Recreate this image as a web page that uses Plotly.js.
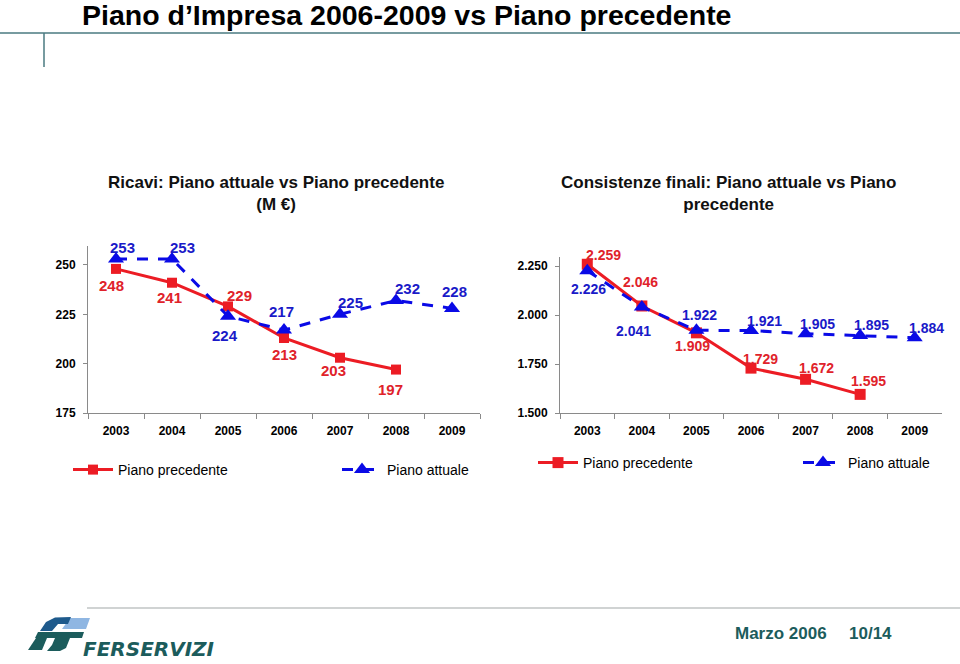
<!DOCTYPE html>
<html><head><meta charset="utf-8">
<script src="https://cdn.plot.ly/plotly-3.0.1.min.js"></script>
<style>html,body{margin:0;padding:0;background:#fff;}#chart{width:960px;height:664px;}</style>
</head><body><div id="chart"></div>
<script>
// ---------- data ----------
const years = ['2003','2004','2005','2006','2007','2008','2009'];
const ricaviPrecedente = [248, 241, 229, 213, 203, 197];
const ricaviAttuale    = [253, 253, 224, 217, 225, 232, 228];
const consPrecedente   = [2259, 2046, 1909, 1729, 1672, 1595];
const consAttuale      = [2226, 2041, 1922, 1921, 1905, 1895, 1884];
const seriesNames = ['Piano precedente', 'Piano attuale'];
const ricaviTicks = [175, 200, 225, 250];
const consTicks   = [1500, 1750, 2000, 2250];
const mainTitle = 'Piano d’Impresa 2006-2009 vs Piano precedente';
const chartTitles = ['Ricavi: Piano attuale vs Piano precedente<br>(M €)',
                     'Consistenze finali: Piano attuale vs Piano<br>precedente'];
const footerDate = 'Marzo 2006';
const footerPage = '10/14';
const logoText = 'FERSERVIZI';

// ---------- styles ----------
const RED = '#ec1c24', BLUE = '#0a0ae6';
const RED_TXT = '#e0222a', BLUE_TXT = '#1a1ac8';
const TEAL = '#1c5c5c';
const FONT = 'Liberation Sans, Arial, Helvetica, sans-serif';
// label offsets (px) [dx, dy(up)]
const offRP = [[-5,-17],[-3,-15],[11,11],[0,-17],[-7,-13],[-6,-20]];
const offRA = [[6,12],[10,12],[-3,-19],[-3,19],[10,12],[11,12],[2,17]];
const offCP = [[16,9],[-1,24],[-4,-13],[9,9],[11,11],[8,13]];
const offCA = [[1,-18],[-8,-24],[3,15],[13,9],[12,10],[11,11],[12,10]];

const W = 960, H = 664;
const X = p => p / W, Y = p => (H - p) / H;
const fmt = n => String(n).replace(/\B(?=(\d{3})+(?!\d))/g, '.');

const traces = [
  {x: years.slice(0, ricaviPrecedente.length), y: ricaviPrecedente, name: seriesNames[0],
   xaxis: 'x', yaxis: 'y', mode: 'lines+markers', legend: 'legend',
   line: {color: RED, width: 3}, marker: {symbol: 'square', size: 10, color: RED}},
  {x: years, y: ricaviAttuale, name: seriesNames[1],
   xaxis: 'x', yaxis: 'y', mode: 'lines+markers', legend: 'legend2',
   line: {color: BLUE, width: 3, dash: '11px,10px'}, marker: {symbol: 'triangle-up', size: 14, color: BLUE}},
  {x: years.slice(0, consPrecedente.length), y: consPrecedente, name: seriesNames[0],
   xaxis: 'x2', yaxis: 'y2', mode: 'lines+markers', legend: 'legend3',
   line: {color: RED, width: 3}, marker: {symbol: 'square', size: 11, color: RED}},
  {x: years, y: consAttuale, name: seriesNames[1],
   xaxis: 'x2', yaxis: 'y2', mode: 'lines+markers', legend: 'legend4',
   line: {color: BLUE, width: 3, dash: '11px,10px'}, marker: {symbol: 'triangle-up', size: 14, color: BLUE}}
];

const ann = [];
function labels(ys, offs, color, size, xr, yr) {
  ys.forEach((v, i) => ann.push({x: i, y: v, xref: xr, yref: yr, text: fmt(v), showarrow: false,
    xshift: offs[i][0], yshift: offs[i][1], font: {family: FONT, size: size, color: color, weight: 'bold'}}));
}
labels(ricaviPrecedente, offRP, RED_TXT, 15, 'x', 'y');
labels(ricaviAttuale, offRA, BLUE_TXT, 15, 'x', 'y');
labels(consPrecedente, offCP, RED_TXT, 14, 'x2', 'y2');
labels(consAttuale, offCA, BLUE_TXT, 14, 'x2', 'y2');

ann.push({xref: 'paper', yref: 'paper', x: X(80), y: Y(15), xanchor: 'left', yanchor: 'middle',
  text: '<b>' + mainTitle + '</b>', showarrow: false, font: {family: FONT, size: 28.5, color: '#000'}});
ann.push({xref: 'paper', yref: 'paper', x: X(276), y: Y(194), xanchor: 'center', yanchor: 'middle',
  text: '<b>' + chartTitles[0] + '</b>', showarrow: false, font: {family: FONT, size: 17, color: '#111'}});
ann.push({xref: 'paper', yref: 'paper', x: X(728), y: Y(194), xanchor: 'center', yanchor: 'middle',
  text: '<b>' + chartTitles[1] + '</b>', showarrow: false, font: {family: FONT, size: 17, color: '#111'}});
ann.push({xref: 'paper', yref: 'paper', x: X(733), y: Y(633), xanchor: 'left', yanchor: 'middle',
  text: '<b>' + footerDate + '</b>', showarrow: false, font: {family: FONT, size: 17, color: TEAL}});
ann.push({xref: 'paper', yref: 'paper', x: X(847), y: Y(633), xanchor: 'left', yanchor: 'middle',
  text: '<b>' + footerPage + '</b>', showarrow: false, font: {family: FONT, size: 17, color: TEAL}});
ann.push({xref: 'paper', yref: 'paper', x: X(81), y: Y(649), xanchor: 'left', yanchor: 'middle',
  text: '<b><i>' + logoText + '</i></b>', showarrow: false, font: {family: 'DejaVu Sans, Arial, sans-serif', size: 20, color: TEAL}});

function poly(pts, color) {
  return {type: 'path', xref: 'paper', yref: 'paper', fillcolor: color, line: {width: 0},
    path: 'M' + pts.map(p => X(p[0]) + ',' + Y(p[1])).join(' L') + ' Z'};
}
const shapes = [
  {type: 'line', xref: 'paper', yref: 'paper', x0: 0, x1: 1, y0: Y(33), y1: Y(33), line: {color: '#4a7a80', width: 1.5}},
  {type: 'line', xref: 'paper', yref: 'paper', x0: X(44), x1: X(44), y0: Y(33), y1: Y(67), line: {color: '#4a7a80', width: 1.5}},
  {type: 'line', xref: 'paper', yref: 'paper', x0: X(87), x1: 1, y0: Y(608), y1: Y(608), line: {color: '#c0c4c4', width: 1.5}},
  poly([[70,618],[90,618],[86,629],[62,629]], '#8fb6e2'),
  poly([[40,631],[46,622],[55,617.5],[71,617],[68,624],[58,624],[52,631]], '#1e5a8c'),
  poly([[38,632],[84,632],[82,638],[35,638]], TEAL),
  poly([[36,638],[47,638],[42,650],[28,650]], TEAL),
  poly([[55,638],[70,638],[66,648],[60,651],[47,651],[52,645]], TEAL)
];

const axisX = {type: 'category', showgrid: false, zeroline: false, showline: true, linecolor: '#8a8a8a',
  ticks: 'outside', tickson: 'boundaries', ticklen: 5, tickcolor: '#8a8a8a', range: [-0.5, 6.5],
  tickfont: {family: FONT, size: 12, color: '#000', weight: 'bold'}, ticklabelstandoff: 7, fixedrange: true};
const axisY = {showgrid: false, zeroline: false, showline: true, linecolor: '#8a8a8a',
  ticks: 'outside', ticklen: 4, tickcolor: '#8a8a8a', tickformat: ',',
  tickfont: {family: FONT, size: 12, color: '#000', weight: 'bold'}, ticklabelstandoff: 5, fixedrange: true};

const legendBase = {orientation: 'h', xanchor: 'left', yanchor: 'middle', bgcolor: 'rgba(0,0,0,0)',
  font: {family: FONT, size: 14, color: '#000'}, itemwidth: 40};

const layout = {
  width: W, height: H, margin: {l: 0, r: 0, t: 0, b: 0}, paper_bgcolor: '#fff', plot_bgcolor: 'rgba(0,0,0,0)',
  separators: ',.', showlegend: true, hovermode: false,
  xaxis: Object.assign({}, axisX, {domain: [X(88), X(480)], anchor: 'y'}),
  yaxis: Object.assign({}, axisY, {domain: [Y(413), Y(246)], range: [175, 259.6], tickvals: ricaviTicks, anchor: 'x'}),
  xaxis2: Object.assign({}, axisX, {domain: [X(560), X(942)], anchor: 'y2'}),
  yaxis2: Object.assign({}, axisY, {domain: [Y(413), Y(257)], range: [1500, 2296], tickvals: consTicks, anchor: 'x2'}),
  legend:  Object.assign({}, legendBase, {x: X(68),  y: Y(470)}),
  legend2: Object.assign({}, legendBase, {x: X(337), y: Y(470)}),
  legend3: Object.assign({}, legendBase, {x: X(533), y: Y(463)}),
  legend4: Object.assign({}, legendBase, {x: X(798), y: Y(463)}),
  annotations: ann, shapes: shapes
};

Plotly.newPlot('chart', traces, layout, {staticPlot: true, displayModeBar: false});
</script></body></html>
